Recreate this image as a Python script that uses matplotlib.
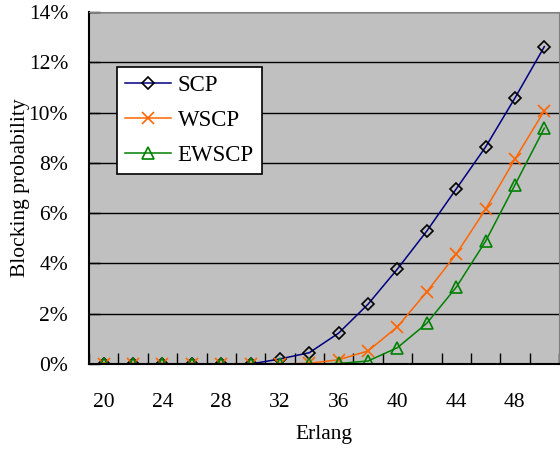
#!/usr/bin/env python
import numpy as np
import matplotlib
matplotlib.use("Agg")
import matplotlib.pyplot as plt
from matplotlib.ticker import FuncFormatter

plt.rcParams['font.family'] = ['Liberation Serif', 'DejaVu Serif']

# Erlang load (one category per point)
erlang = [20, 22, 24, 26, 28, 30, 32, 34, 36, 38, 40, 42, 44, 46, 48, 50]
# blocking probability in %
scp = [0, 0, 0, 0, 0, 0, 0.2, 0.45, 1.23, 2.38, 3.78, 5.29, 6.96, 8.63, 10.58, 12.62]
wscp = [0, 0, 0, 0, 0, 0, 0, 0.03, 0.17, 0.52, 1.48, 2.87, 4.37, 6.15, 8.15, 10.07]
ewscp = [0, 0, 0, 0, 0, 0, 0, 0, 0.02, 0.12, 0.65, 1.62, 3.05, 4.88, 7.12, 9.38]
xlabels = ['20', '24', '28', '32', '36', '40', '44', '48']

fs = 15.5

fig = plt.figure(figsize=(5.6, 4.5), dpi=100)
ax = fig.add_axes([89/560, 1-364/450, 470/560, 352/450])
ax.set_facecolor('#C0C0C0')

x = np.arange(len(erlang))
ax.plot(x, scp, color='#000080', lw=1.1, marker='D', ms=6.5, mfc='none',
        mec='black', mew=1.2, label='SCP')
ax.plot(x, wscp, color='#FF6600', lw=1.1, marker='x', ms=8.5, mew=1.2,
        label='WSCP')
ax.plot(x, ewscp, color='#008000', lw=1.1, marker='^', ms=8, mfc='none',
        mew=1.2, label='EWSCP')

ax.set_xlim(-0.5, len(erlang) - 0.5)
ax.set_ylim(0, 14)
ax.set_yticks(np.arange(0, 15, 2))
ax.yaxis.set_major_formatter(FuncFormatter(lambda v, p: '%d%%' % v))
ax.grid(axis='y', color='black', lw=1)
ax.set_axisbelow(True)
ax.tick_params(axis='y', direction='in', length=8, width=1, labelsize=fs, pad=15)

ax.set_xticks(np.arange(0, 16, 2))
ax.set_xticklabels(xlabels)
ax.set_xticks(np.arange(-0.5, 16, 1), minor=True)
ax.tick_params(axis='x', which='major', length=0, labelsize=fs, pad=21)
ax.tick_params(axis='x', which='minor', direction='in', length=8, width=1)

for s in ['left', 'bottom']:
    ax.spines[s].set_color('black')
    ax.spines[s].set_linewidth(1.5)
for s in ['top', 'right']:
    ax.spines[s].set_color('#808080')

ax.set_xlabel('Erlang', fontsize=fs)
ax.xaxis.set_label_coords(0.5, (364-425)/352)
ax.set_ylabel('Blocking probability', fontsize=fs)
ax.yaxis.set_label_coords((30-89)/470, 0.5)

leg = ax.legend(loc='upper left', bbox_to_anchor=((117-89)/470, (364-67)/352),
                borderaxespad=0, fontsize=16.5, fancybox=False, framealpha=1,
                edgecolor='black', borderpad=0.35, handlelength=2.0,
                handletextpad=0.3, labelspacing=0.6)
leg.get_frame().set_linewidth(1.2)

fig.savefig('out.png', dpi=100)
